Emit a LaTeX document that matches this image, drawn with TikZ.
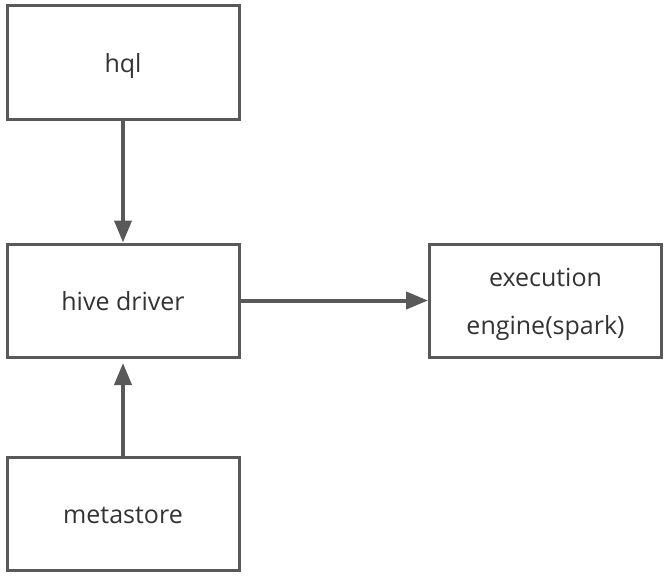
\documentclass[tikz,border=0pt]{standalone}
\usepackage{fontspec}
\setmainfont{Open Sans}
\usetikzlibrary{arrows.meta}
\definecolor{edge}{HTML}{595959}
\definecolor{txt}{HTML}{333333}
\newcommand{\liftxt}[1]{\raisebox{-3pt}{\begin{tabular}{@{}c@{}}#1\end{tabular}}}
\tikzset{
  box/.style={draw=edge, line width=3pt, minimum width=232pt, minimum height=113pt,
    inner sep=0pt, align=center, text=txt, font=\fontsize{25}{48}\selectfont},
  conn/.style={draw=edge, line width=4pt, -{Triangle[length=22pt,width=17pt]}}
}
\begin{document}
\begin{tikzpicture}[x=1pt,y=-1pt]
\useasboundingbox (0,0) rectangle (668,578);
\node[box] (hql) at (123,62.5) {\liftxt{hql}};
\node[box] (drv) at (123,300.5) {\liftxt{hive driver}};
\node[box] (meta) at (123,514) {\liftxt{metastore}};
\node[box] (exec) at (545.5,300.5) {\liftxt{execution\\engine(spark)}};
\draw[conn] (hql.south) -- (drv.north);
\draw[conn] (drv.east) -- (exec.west);
\draw[conn, shorten >=4.5pt] (meta.north) -- (drv.south);
\end{tikzpicture}
\end{document}
